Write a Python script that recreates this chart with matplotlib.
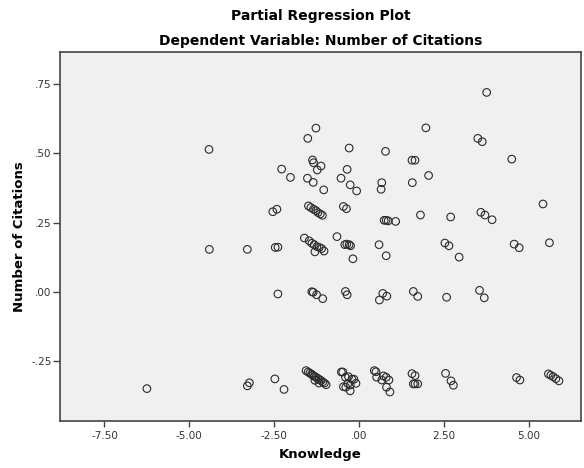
import matplotlib
matplotlib.use("Agg")
import matplotlib.pyplot as plt

# Partial regression residuals: Knowledge (x) vs Number of Citations (y)
knowledge = [
    # upper band
    -4.42, -2.28, -2.02, -1.27, -1.51, -0.29, 0.78, 1.97, -1.37, -1.34,
    -1.12, -1.23, -1.52, -1.35, -1.04, -0.35, -0.53, -0.26, -0.07, 0.67,
    0.65, 1.56, 1.65, 2.05, 1.57, 3.76, 3.50, 3.63, 4.50,
    # ~0.3 band
    -2.54, -2.42, -1.49, -1.42, -1.34, -1.27, -1.21, -1.14, -1.08, -0.46,
    -0.37, 0.74, 0.80, 0.86, 1.08, 1.81, 5.42, 2.70, 3.59, 3.71, 3.92,
    # ~0.15 band
    -4.41, -3.29, -2.47, -2.39, -1.61, -1.47, -1.39, -1.32, -1.24, -1.17,
    -1.10, -1.03, -1.30, -0.65, -0.42, -0.36, -0.29, -0.25, -0.18, 0.59,
    0.80, 2.53, 2.65, 2.95, 4.57, 4.72, 5.61,
    # ~0 band
    -2.39, -1.39, -1.35, -1.25, -1.07, -0.40, -0.35, 0.70, 0.60, 0.82,
    1.60, 1.73, 2.58, 3.55, 3.69,
    # lower band
    -6.25, -3.23, -3.29, -2.48, -2.21, -1.56, -1.50, -1.45, -1.40, -1.36,
    -1.31, -1.27, -1.22, -1.17, -1.12, -1.07, -1.02, -0.97, -1.30, -1.18,
    -0.52, -0.48, -0.40, -0.46, -0.31, -0.26, -0.21, -0.15, -0.09, -0.26,
    -0.39, -0.33, 0.45, 0.50, 0.52, 0.67, 0.72, 0.80, 0.88, 0.81, 0.91,
    1.56, 1.65, 1.60, 1.65, 1.73, 2.55, 2.71, 2.78, 4.64, 4.74,
    5.58, 5.65, 5.72, 5.80, 5.89,
]

citations = [
    # upper band
    0.514, 0.443, 0.413, 0.591, 0.554, 0.519, 0.507, 0.592, 0.476, 0.466,
    0.454, 0.440, 0.410, 0.395, 0.368, 0.442, 0.410, 0.386, 0.364, 0.394,
    0.370, 0.475, 0.475, 0.420, 0.394, 0.720, 0.554, 0.542, 0.479,
    # ~0.3 band
    0.289, 0.298, 0.310, 0.304, 0.298, 0.293, 0.286, 0.281, 0.276, 0.308,
    0.300, 0.258, 0.258, 0.256, 0.254, 0.277, 0.317, 0.270, 0.287, 0.277, 0.260,
    # ~0.15 band
    0.153, 0.153, 0.160, 0.161, 0.194, 0.184, 0.175, 0.170, 0.163, 0.160,
    0.156, 0.147, 0.144, 0.199, 0.170, 0.172, 0.170, 0.166, 0.119, 0.170,
    0.130, 0.176, 0.166, 0.125, 0.172, 0.159, 0.177,
    # ~0 band
    -0.008, 0.000, -0.002, -0.011, -0.025, 0.001, -0.011, -0.006, -0.030, -0.016,
    0.001, -0.017, -0.020, 0.005, -0.022,
    # lower band
    -0.350, -0.329, -0.340, -0.315, -0.353, -0.285, -0.290, -0.294, -0.298, -0.302,
    -0.306, -0.309, -0.313, -0.317, -0.321, -0.326, -0.330, -0.336, -0.320, -0.330,
    -0.290, -0.290, -0.309, -0.343, -0.307, -0.337, -0.316, -0.316, -0.331, -0.358,
    -0.345, -0.332, -0.285, -0.289, -0.309, -0.319, -0.304, -0.309, -0.319, -0.345, -0.362,
    -0.296, -0.303, -0.333, -0.333, -0.333, -0.295, -0.322, -0.338, -0.310, -0.319,
    -0.297, -0.302, -0.307, -0.314, -0.322,
]

x_ticks = [-7.5, -5.0, -2.5, 0.0, 2.5, 5.0]
x_tick_labels = ["-7.50", "-5.00", "-2.50", ".00", "2.50", "5.00"]
y_ticks = [-0.25, 0.0, 0.25, 0.5, 0.75]
y_tick_labels = ["-.25", ".00", ".25", ".50", ".75"]

plt.rcParams["font.family"] = ["DejaVu Sans"]

fig = plt.figure(figsize=(5.84, 4.68), dpi=100)
fig.patch.set_facecolor("white")
ax = fig.add_axes([60 / 584, 47 / 468, 521 / 584, 369 / 468])
ax.set_facecolor("#f0f0f0")

ax.scatter(knowledge, citations, s=30, facecolors="none",
           edgecolors="#2b2b2b", linewidths=0.8, zorder=3)

ax.set_xlim(-8.81, 6.54)
ax.set_ylim(-0.467, 0.866)

ax.set_xticks(x_ticks)
ax.set_xticklabels(x_tick_labels)
ax.set_yticks(y_ticks)
ax.set_yticklabels(y_tick_labels)
ax.tick_params(direction="out", width=1, color="#444444",
               labelsize=7.5, labelcolor="#333333")
ax.tick_params(axis="x", length=4.5, pad=2.5)
ax.tick_params(axis="y", length=5, pad=1)
ax.tick_params(top=False, right=False)

for side in ax.spines.values():
    side.set_color("#444444")
    side.set_linewidth(1.2)

ax.set_xlabel("Knowledge", fontsize=9.5, fontweight="bold", labelpad=5)
ax.set_ylabel("Number of Citations", fontsize=9.5, fontweight="bold", labelpad=4)

# Two-line title centred over the plotting area
title_x = (60 + 521 / 2) / 584
fig.text(title_x, 1 - 16 / 468, "Partial Regression Plot", ha="center", va="center",
         fontsize=10, fontweight="bold")
fig.text(title_x, 1 - 41 / 468, "Dependent Variable: Number of Citations",
         ha="center", va="center", fontsize=10, fontweight="bold")

fig.savefig("out.png", dpi=100)
